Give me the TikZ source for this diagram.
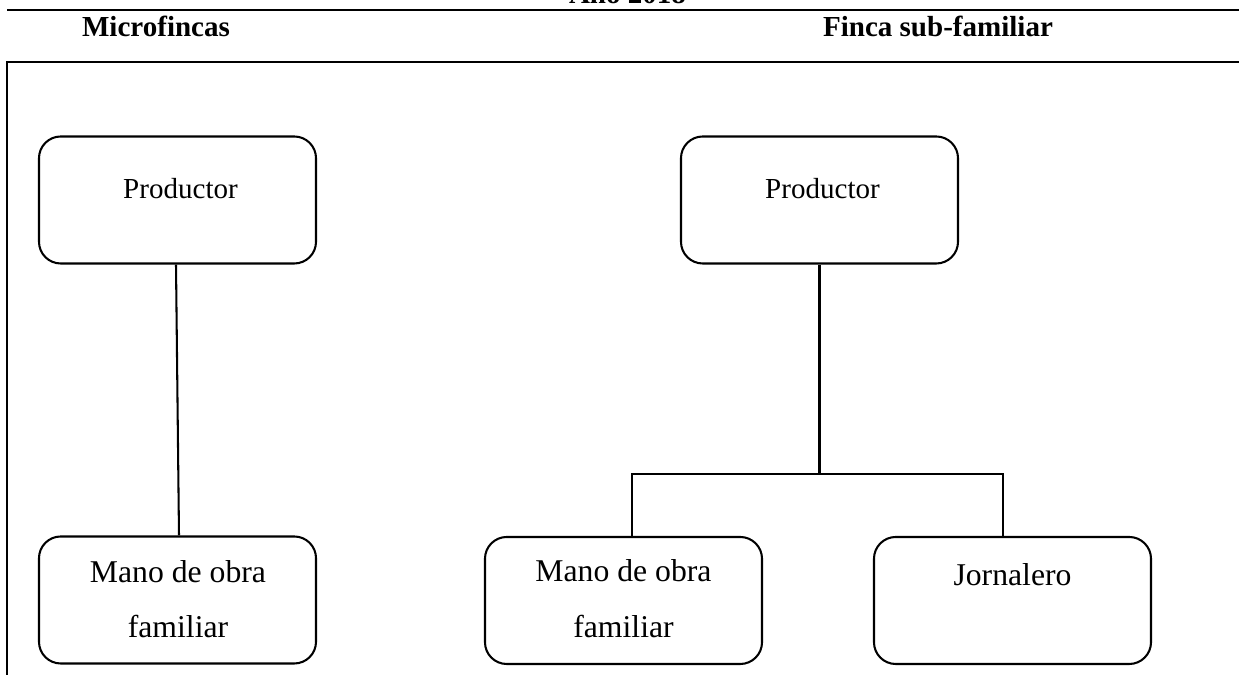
\documentclass[tikz,border=0pt]{standalone}
\usepackage{fontspec}
\setmainfont{Liberation Serif}
\usetikzlibrary{calc}

\tikzset{
  caja/.style={draw, line width=0.85pt, rounded corners=9pt, minimum width=114.5pt, minimum height=52.5pt, inner sep=0pt},
  texto/.style={anchor=base, inner sep=0pt, font=\fontsize{12}{14}\selectfont},
  textog/.style={texto, font=\fontsize{13.1}{15}\selectfont},
  titulo/.style={anchor=base, inner sep=0pt, font=\fontsize{12}{14}\selectfont\bfseries},
  linea/.style={line width=0.85pt}
}

\begin{document}
\begin{tikzpicture}[x=0.4133pt,y=0.4133pt,yscale=-1,xscale=1]
        \useasboundingbox (0,0) rectangle (1239,675);
        \clip (0,0) rectangle (1239,675);

        %Shape: Frame lines
        \draw [line width=0.95pt] (7,10) -- (1239,10) ;
        \draw [line width=0.95pt] (1239,62) -- (7,62) -- (7,675) ;

        % Text Node
        \node [titulo] (anio) at (627.5,4) {Año 2018};
        % Text Node
        \node [titulo] (micro) at (156,37) {Microfincas};
        % Text Node
        \node [titulo] (subfam) at (938,37) {Finca sub-familiar};

        %Shape: Rounded Rect
        \node [caja] (p1) at (177.5,200) {};
        %Shape: Rounded Rect
        \node [caja] (m1) at (177.5,600) {};
        %Shape: Rounded Rect
        \node [caja] (p2) at (819.5,200) {};
        %Shape: Rounded Rect
        \node [caja] (m2) at (623.5,600.5) {};
        %Shape: Rounded Rect
        \node [caja] (jo) at (1012.5,600.5) {};

        % Text Node
        \node [texto] (p1t) at ($(p1.north)+(3,63)$) {Productor};
        % Text Node
        \node [textog] (m1t) at ($(m1.north)+(0.5,47)$) {Mano de obra};
        \node [textog] (m1u) at ($(m1.north)+(0.5,102)$) {familiar};
        % Text Node
        \node [texto] (p2t) at ($(p2.north)+(3,63)$) {Productor};
        % Text Node
        \node [textog] (m2t) at ($(m2.north)+(0,46)$) {Mano de obra};
        \node [textog] (m2u) at ($(m2.north)+(0,102)$) {familiar};
        % Text Node
        \node [textog] (jot) at ($(jo.north)+(0,50)$) {Jornalero};

        %Straight Lines
        \draw [linea] ($(p1.south)+(-1.5,0)$) -- ($(m1.north)+(1.5,0)$) ;
        \coordinate (j) at ($(p2.south)+(0,209)$) ;
        \draw [linea] (p2.south) -- (j) ;
        \draw [linea] ($(m2.north)+(8.5,0)$) |- (j) -| ($(jo.north)+(-9.5,0)$) ;

\end{tikzpicture}
\end{document}
